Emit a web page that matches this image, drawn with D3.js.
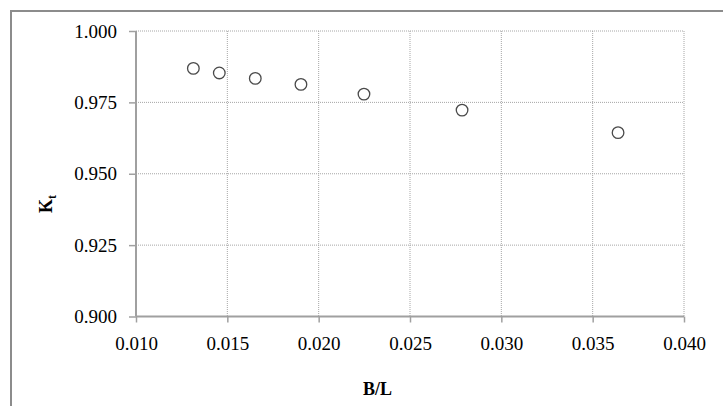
<!DOCTYPE html>
<html>
<head>
<meta charset="utf-8">
<script src="https://cdn.jsdelivr.net/npm/d3@7"></script>
<style>
  html, body { margin: 0; padding: 0; background: #fff; }
  svg { display: block; }
  svg text { font-family: "Liberation Serif", "Times New Roman", serif; fill: #000; }
</style>
</head>
<body>
<svg id="chart" width="723" height="406"></svg>
<script>
// Measured ratio B/L against coefficient Kt
const bl = [0.01314, 0.01456, 0.01653, 0.01903, 0.02248, 0.02785, 0.03639];
const kt = [0.9869, 0.9853, 0.9834, 0.9813, 0.9779, 0.9723, 0.9644];
const xTicks = [0.010, 0.015, 0.020, 0.025, 0.030, 0.035, 0.040];
const yTicks = [0.900, 0.925, 0.950, 0.975, 1.000];

const SERIF = "Liberation Serif, Times New Roman, serif";
const svg = d3.select("#chart");
const plot = { left: 136, right: 684, top: 31, bottom: 316.5 };

// Chart frame
svg.append("rect")
  .attr("x", 11).attr("y", 11)
  .attr("width", 900).attr("height", 600)
  .attr("fill", "#fff")
  .attr("stroke", "#8c8c8c").attr("stroke-width", 2);

const x = d3.scaleLinear().domain([0.010, 0.040]).range([plot.left, plot.right]);
const y = d3.scaleLinear().domain([0.900, 1.000]).range([plot.bottom, plot.top]);

// Dotted grid
const grid = svg.append("g").attr("class", "grid");
grid.selectAll("line.v").data(xTicks.slice(1)).join("line")
  .attr("x1", d => x(d)).attr("x2", d => x(d))
  .attr("y1", plot.top).attr("y2", plot.bottom)
  .attr("stroke", "#a6a6a6").attr("stroke-width", 1)
  .attr("stroke-dasharray", "1,1");
grid.selectAll("line.h").data(yTicks.slice(1)).join("line")
  .attr("x1", plot.left).attr("x2", plot.right)
  .attr("y1", d => y(d)).attr("y2", d => y(d))
  .attr("stroke", "#a6a6a6").attr("stroke-width", 1)
  .attr("stroke-dasharray", "1,1");

// Axes
const fmt = d3.format(".3f");
const xAxis = svg.append("g")
  .attr("transform", `translate(0,${plot.bottom})`)
  .call(d3.axisBottom(x).tickValues(xTicks).tickFormat(fmt).tickSize(6).tickPadding(14));
const yAxis = svg.append("g")
  .attr("transform", `translate(${plot.left},0)`)
  .call(d3.axisLeft(y).tickValues(yTicks).tickFormat(fmt).tickSize(7).tickPadding(12));

[xAxis, yAxis].forEach(g => {
  g.attr("font-family", SERIF).attr("font-size", 19);
  g.select(".domain").attr("stroke", "#a0a0a0").attr("stroke-width", 2);
  g.selectAll(".tick line").attr("stroke", "#a0a0a0").attr("stroke-width", 1.5);
  g.selectAll(".tick text")
    .attr("font-family", SERIF).attr("font-size", 19).attr("fill", "#000");
});
xAxis.select(".domain").attr("d", `M${plot.left},0H${plot.right}`);
yAxis.select(".domain").attr("d", `M0,${plot.top}V${plot.bottom}`);

// Data points
svg.append("g").selectAll("circle")
  .data(bl.map((v, i) => [v, kt[i]]))
  .join("circle")
  .attr("cx", d => x(d[0])).attr("cy", d => y(d[1]))
  .attr("r", 5.8)
  .attr("fill", "#fff")
  .attr("stroke", "#4a4a4a").attr("stroke-width", 1.3);

// Axis titles
svg.append("text")
  .attr("x", 377.5).attr("y", 395)
  .attr("text-anchor", "middle")
  .attr("font-family", SERIF)
  .attr("font-size", 18).attr("font-weight", "bold")
  .text("B/L");

const yt = svg.append("text")
  .attr("transform", "translate(52,204) rotate(-90)")
  .attr("text-anchor", "middle")
  .attr("font-family", SERIF)
  .attr("font-size", 18).attr("font-weight", "bold");
yt.append("tspan").text("K");
yt.append("tspan").attr("dy", 4).attr("font-size", 12).text("t");
</script>
</body>
</html>
